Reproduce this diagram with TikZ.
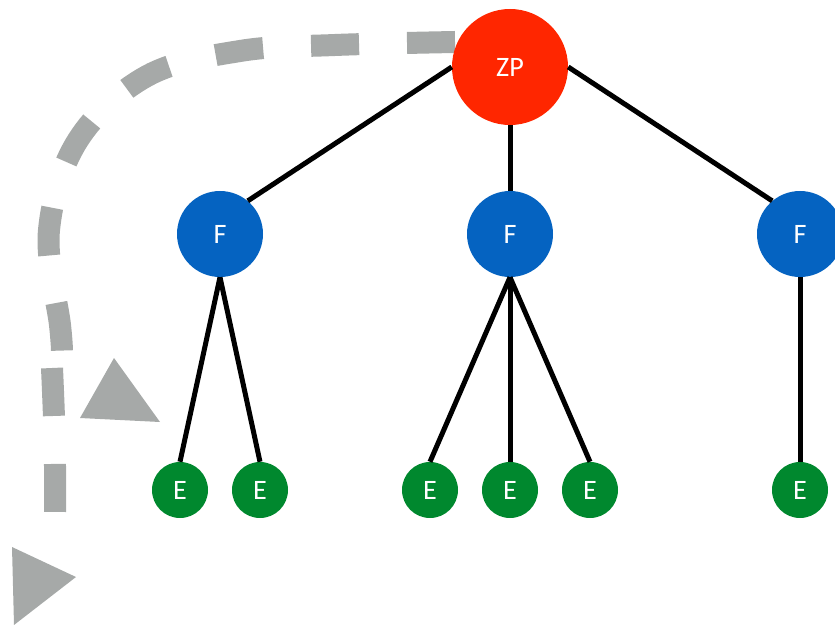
\documentclass[tikz,border=0pt]{standalone}
\usepackage{fontspec}
\setmainfont{Carlito}
\definecolor{zpred}{RGB}{255,38,0}
\definecolor{fblue}{RGB}{5,99,193}
\definecolor{egreen}{RGB}{0,136,46}
\definecolor{pathgray}{RGB}{166,169,168}
\begin{document}
\begin{tikzpicture}[x=0.03cm,y=-0.03cm]
\tikzstyle{every node}=[font=\fontsize{24}{28}\selectfont, text=white]
\tikzstyle{zpnode}=[circle, fill=zpred, inner sep=0pt, minimum size=3.48cm]
\tikzstyle{fnode}=[circle, fill=fblue, inner sep=0pt, minimum size=2.58cm]
\tikzstyle{enode}=[circle, fill=egreen, inner sep=0pt, minimum size=1.68cm]
\tikzstyle{edge}=[line width=0.15cm, black]
\tikzstyle{walk}=[line width=0.66cm, pathgray, dash pattern=on 1.44cm off 1.44cm]
\tikzstyle{walkhead}=[fill=pathgray]

\useasboundingbox (0,0) rectangle (835,625);

% walk round the tree
\draw[walk] plot[smooth, tension=0.6] coordinates {(455,42) (335,45) (240,51) (147,76) (78,140) (49,230) (60,325) (62,352)};
\draw[walk] plot[smooth, tension=0.6] coordinates {(52,368) (54,418) (55,466) (55,515)};
\fill[walkhead] (114,358) -- (160,422) -- (80,418) -- cycle;
\fill[walkhead] (12,547) -- (76,577) -- (14,625) -- cycle;

\node[zpnode] (ZP) at (510,67) {ZP};
\node[fnode] (F1) at (220,234) {F};
\node[fnode] (F2) at (510,234) {F};
\node[fnode] (F3) at (800,234) {F};
\node[enode] (E1) at (180,490) {E};
\node[enode] (E2) at (260,490) {E};
\node[enode] (E3) at (430,490) {E};
\node[enode] (E4) at (510,490) {E};
\node[enode] (E5) at (590,490) {E};
\node[enode] (E6) at (800,490) {E};

\draw[edge] (ZP.west) -- (F1.50);
\draw[edge] (ZP.south) -- (F2.north);
\draw[edge] (ZP.east) -- (F3.130);
\draw[edge] (F1.south) -- (E1.north);
\draw[edge] (F1.south) -- (E2.north);
\draw[edge] (F2.south) -- (E3.north);
\draw[edge] (F2.south) -- (E4.north);
\draw[edge] (F2.south) -- (E5.north);
\draw[edge] (F3.south) -- (E6.north);

\end{tikzpicture}
\end{document}
